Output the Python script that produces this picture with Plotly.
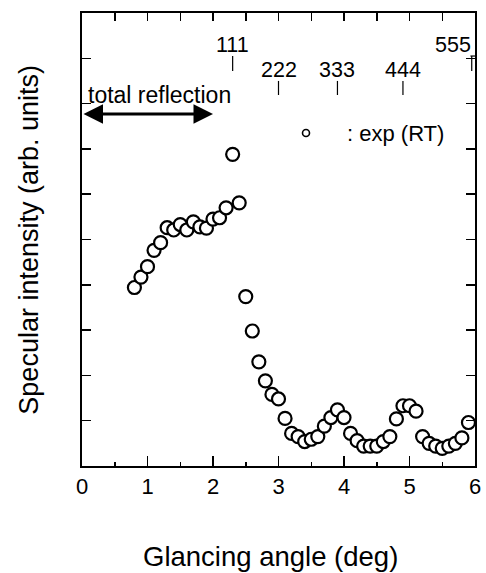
import plotly.graph_objects as go

# ---- data ----
angle = [0.8, 0.9, 1.0, 1.1, 1.2, 1.3, 1.4, 1.5, 1.6, 1.7, 1.8, 1.9, 2.0, 2.1, 2.2, 2.3, 2.4,
         2.5, 2.6, 2.7, 2.8, 2.9, 3.0, 3.1, 3.2, 3.3, 3.4, 3.5, 3.6, 3.7, 3.8, 3.9, 4.0,
         4.1, 4.2, 4.3, 4.4, 4.5, 4.6, 4.7, 4.8, 4.9, 5.0, 5.1, 5.2, 5.3, 5.4, 5.5, 5.6,
         5.7, 5.8, 5.9]
intensity = [3.94, 4.17, 4.40, 4.76, 4.93, 5.26, 5.21, 5.33, 5.21, 5.39, 5.28, 5.25, 5.45, 5.48,
             5.70, 6.88, 5.81, 3.74, 2.98, 2.30, 1.88, 1.58, 1.48, 1.05, 0.72, 0.65, 0.54, 0.59,
             0.65, 0.88, 1.07, 1.24, 1.07, 0.72, 0.56, 0.44, 0.44, 0.44, 0.54, 0.65, 1.04, 1.33,
             1.33, 1.21, 0.65, 0.50, 0.44, 0.39, 0.44, 0.50, 0.62, 0.96]

x_ticks = [0, 1, 2, 3, 4, 5, 6]
x_ticklabels = ["0", "1", "2", "3", "4", "5", "6"]

peak_labels = ["111", "222", "333", "444", "555"]
peak_pos = [2.3, 3.0, 3.9, 4.9, 5.95]
peak_row = [0, 1, 1, 1, 0]          # 0 = upper row, 1 = lower row

total_refl_range = [0.0, 2.0]
legend_text = ": exp (RT)"

FONT = "Liberation Sans, Arial, sans-serif"

fig = go.Figure()

fig.add_trace(go.Scatter(
    x=angle, y=intensity, mode="markers",
    marker=dict(symbol="circle", size=13, color="white",
                line=dict(color="black", width=2.2)),
    showlegend=False, cliponaxis=False, hoverinfo="skip"))

# legend symbol
fig.add_trace(go.Scatter(
    x=[3.42], y=[7.35], mode="markers",
    marker=dict(symbol="circle", size=7, color="white",
                line=dict(color="black", width=1.6)),
    showlegend=False, hoverinfo="skip"))

# invisible trace for the top axis
fig.add_trace(go.Scatter(x=[0, 6], y=[0, 0], xaxis="x2", mode="markers",
                         marker=dict(opacity=0), showlegend=False, hoverinfo="skip"))

annotations = []
shapes = []

# peak labels and their little tick marks
row_text_y = [9.30, 8.75]
row_tick = [(9.05, 8.72), (8.50, 8.19)]
for lab, p, r in zip(peak_labels, peak_pos, peak_row):
    anchor = "center"
    tx = p
    if lab == "555":
        anchor = "right"
        tx = p + 0.02
    annotations.append(dict(x=tx, y=row_text_y[r], text=lab, showarrow=False,
                            xanchor=anchor, yanchor="middle",
                            font=dict(size=21.5, family=FONT, color="black")))
    shapes.append(dict(type="line", x0=p, x1=p, y0=row_tick[r][0], y1=row_tick[r][1],
                       line=dict(color="black", width=1.2)))
    if lab == "555":
        shapes.append(dict(type="line", x0=p - 0.02, x1=6, y0=row_tick[r][0], y1=row_tick[r][0],
                           line=dict(color="black", width=1.2)))

# total reflection arrow
annotations.append(dict(x=total_refl_range[1], y=7.77, ax=total_refl_range[0], ay=7.77,
                        xref="x", yref="y", axref="x", ayref="y",
                        showarrow=True, arrowhead=2, startarrowhead=2,
                        arrowside="end+start", arrowwidth=3, arrowsize=1.3,
                        startarrowsize=1.3, arrowcolor="black", text=""))
annotations.append(dict(x=0.06, y=8.19, text="total reflection", showarrow=False,
                        xanchor="left", yanchor="middle",
                        font=dict(size=23, family=FONT, color="black")))

# legend text
annotations.append(dict(x=4.01, y=7.35, text=legend_text, showarrow=False,
                        xanchor="left", yanchor="middle",
                        font=dict(size=22, family=FONT, color="black")))

# axis titles
annotations.append(dict(x=0.48, y=-0.20, xref="paper", yref="paper",
                        text="Glancing angle (deg)", showarrow=False,
                        xanchor="center", yanchor="middle",
                        font=dict(size=27.5, family=FONT, color="black")))
annotations.append(dict(x=-0.137, y=0.50, xref="paper", yref="paper",
                        text="Specular intensity (arb. units)", showarrow=False,
                        textangle=-90, xanchor="center", yanchor="middle",
                        font=dict(size=27, family=FONT, color="black")))

fig.update_layout(
    width=486, height=573, autosize=False,
    margin=dict(l=82, r=11, t=13, b=107, autoexpand=False),
    paper_bgcolor="white", plot_bgcolor="white",
    font=dict(family=FONT, color="black"),
    xaxis=dict(range=[0, 6], tickvals=x_ticks, ticktext=x_ticklabels,
               ticks="inside", ticklen=10, tickwidth=1.5, tickcolor="black",
               minor=dict(ticks="inside", ticklen=4, dtick=0.5, tickwidth=1.5, tickcolor="black"),
               showline=True, linewidth=2, linecolor="black", showgrid=False, zeroline=False,
               ticklabelstandoff=0, ticklabeloverflow="allow", automargin=False,
               tickfont=dict(size=22, family=FONT, color="black")),
    xaxis2=dict(range=[0, 6], overlaying="x", side="top", anchor="y", automargin=False,
                dtick=0.5, tick0=0, ticks="inside", ticklen=8, tickwidth=1.5, tickcolor="black",
                showticklabels=False, showline=True, linewidth=2, linecolor="black",
                showgrid=False, zeroline=False),
    yaxis=dict(range=[0, 10], dtick=1, tick0=0, ticks="inside", ticklen=9, tickwidth=1.5,
               tickcolor="black", showticklabels=False, mirror="ticks", automargin=False,
               showline=True, linewidth=2, linecolor="black", showgrid=False, zeroline=False),
    annotations=annotations, shapes=shapes,
)

# remove the default 8px page margin so the 486x573 figure fills the window exactly
fig.write_html("out.html",
               config={"responsive": False, "displayModeBar": False, "staticPlot": True},
               post_script="document.documentElement.style.overflow='hidden';"
                           "document.body.style.margin='0';document.body.style.overflow='hidden';")
